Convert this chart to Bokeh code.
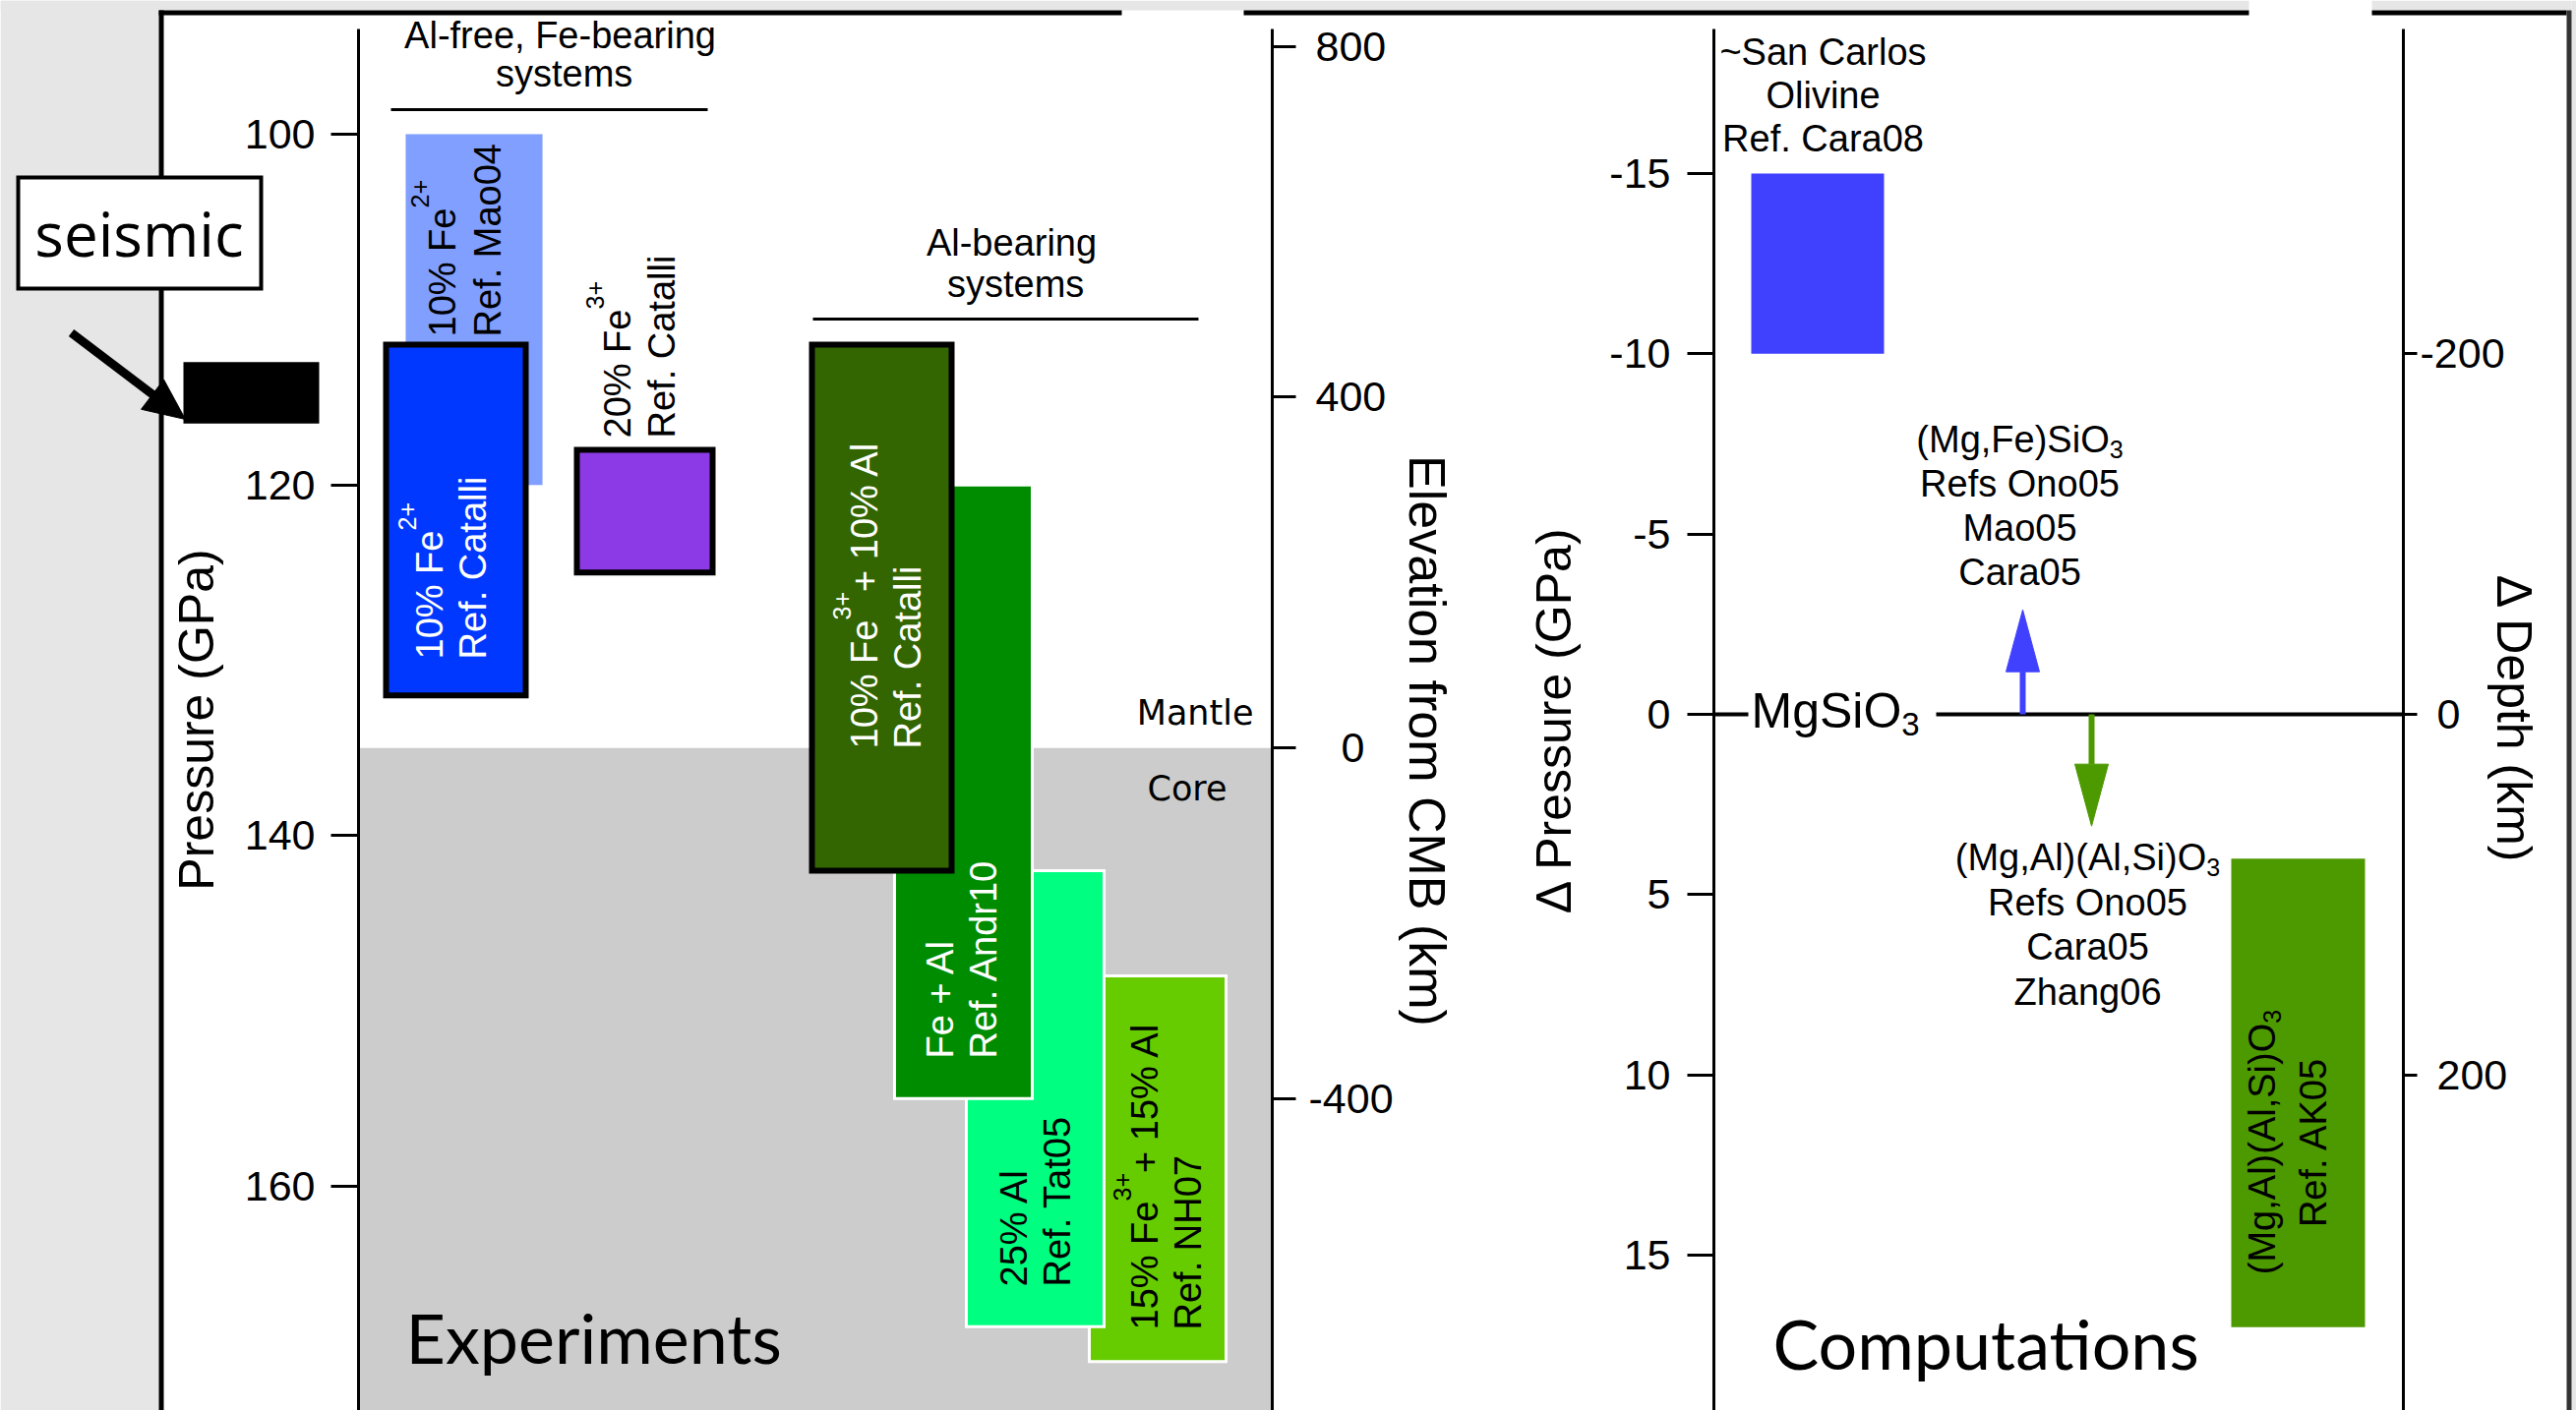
import math

from bokeh.embed import file_html
from bokeh.models import FixedTicker, Label, LinearAxis, Range1d
from bokeh.plotting import figure
from bokeh.resources import INLINE

# ------------------------------------------------------------------ data
CMB_PRESSURE = 135.0      # GPa at the core-mantle boundary
KM_PER_GPA = 20.0         # pressure -> elevation / depth conversion

# experiments: pressure interval of the post-perovskite transition (GPa)
exp_refs = ["Mao04", "Catalli Fe2+", "Catalli Fe3+", "NH07", "Tat05", "Andr10", "Catalli Fe3+Al"]
exp_p_start = [100, 112, 118, 148, 142, 120, 112]
exp_p_end = [120, 132, 125, 170, 168, 155, 142]

# seismic D'' discontinuity (GPa)
seismic_p_start = 113.0
seismic_p_end = 116.5

# computations: transition pressure relative to MgSiO3 (GPa)
comp_refs = ["Cara08", "AK05"]
comp_dp_start = [-15, 4]
comp_dp_end = [-10, 17]

shift_refs = ["(Mg,Fe)SiO3", "(Mg,Al)(Al,Si)O3"]
shift_dp = [-2.9, 3.1]

pressure_ticks = [100, 120, 140, 160]
elevation_ticks = [-400, 0, 400, 800]
dpressure_ticks = [-15, -10, -5, 0, 5, 10, 15]
depth_ticks = [-200, 0, 200]

# ---------------------------------------------------------------- layout
# one canvas; the default ranges are canvas pixels (y downwards)
W, H = 2619, 1434
AXIS_TOP = 29
P_AXIS_X, ELEV_AXIS_X = 364, 1293
DP_AXIS_X, DEPTH_AXIS_X = 1742, 2443

P_Y100, P_PX = 136.0, 17.833        # y of 100 GPa, px per GPa
DP_Y0, DP_PX = 726.0, 36.667        # y of 0 GPa shift, px per GPa


def p_at(y):
    return 100.0 + (y - P_Y100) / P_PX


def dp_at(y):
    return (y - DP_Y0) / DP_PX


def elev_at(y):
    return (CMB_PRESSURE - p_at(y)) * KM_PER_GPA


FONT = "Liberation Sans"
GRAY = "#e6e6e6"

# label standoff per tick value on the right-hand scales (labels sit centred)
elev_standoff = {-400: 13, 0: 46, 400: 20, 800: 20}
depth_standoff = {-200: 3, 0: 20, 200: 20}

exp_left = [412, 392, 586, 1107, 982, 909, 825]
exp_right = [551, 534, 724, 1246, 1122, 1049, 967]
exp_fill = ["#809fff", "#0038ff", "#8c3ae6", "#66cc00", "#00ff80", "#008c00", "#336600"]
exp_line = ["#809fff", "black", "black", "white", "white", "white", "black"]
exp_lw = [0.1, 6, 6, 3, 3, 3, 6]

N, SUP, SUB = "n", "sup", "sub"
exp_text = [
    ([("10% Fe", N), ("2+", SUP)], [("Ref. Mao04", N)]),
    ([("10% Fe", N), ("2+", SUP)], [("Ref. Catalli", N)]),
    ([("20% Fe", N), ("3+", SUP)], [("Ref. Catalli", N)]),
    ([("15% Fe", N), ("3+", SUP), (" + 15% Al", N)], [("Ref. NH07", N)]),
    ([("25% Al", N)], [("Ref. Tat05", N)]),
    ([("Fe + Al", N)], [("Ref. Andr10", N)]),
    ([("10% Fe", N), ("3+", SUP), (" + 10% Al", N)], [("Ref. Catalli", N)]),
]
exp_text_pos = [(449, 495, 342), (436, 480, 670), (627, 672, 445), (1163, 1207, 1352),
                (1030, 1074, 1308), (955, 999, 1076), (878, 922, 761)]
exp_text_color = ["black", "white", "black", "black", "black", "white", "white"]

comp_left = [1780, 2268]
comp_right = [1915, 2404]
comp_fill = ["#4040ff", "#4d9900"]

shift_x = [2056, 2126]
shift_color = ["#4040ff", "#4d9900"]
HEAD_LEN, HEAD_HALF = 63, 17

ARIAL = {' ': 278, '%': 889, '(': 333, ')': 333, '+': 584, ',': 278, '-': 333, '.': 278,
         '~': 584, 'A': 667, 'C': 722, 'F': 611, 'K': 667, 'M': 833, 'N': 722, 'O': 778,
         'R': 722, 'S': 667, 'Z': 611, 'H': 722, 'a': 556, 'c': 500, 'e': 556, 'f': 278,
         'g': 556, 'h': 556, 'i': 222, 'l': 222, 'n': 556, 'o': 556, 'r': 333, 's': 500,
         't': 278, 'v': 500}
for d in "0123456789":
    ARIAL[d] = 556

SUP_SCALE, SUP_RISE, SUB_DROP = 0.66, 0.72, 0.15
MID = 0.35      # baseline -> middle anchor, in em


def text_width(s, size):
    return sum(ARIAL.get(c, 556) for c in s) * size / 1000.0


def run_specs(runs, size):
    out, adv = [], 0.0
    for txt, kind in runs:
        fs = size if kind == N else size * SUP_SCALE
        shift = SUP_RISE * size if kind == SUP else (-SUB_DROP * size if kind == SUB else 0.0)
        out.append((txt, fs, adv, shift))
        adv += text_width(txt, fs)
    return out, adv


def label(p, x, y, text, size, font=FONT, color="black", align="left", angle=0.0):
    p.add_layout(Label(x=x, y=y, text=text, angle=angle, text_align=align,
                       text_baseline="middle", text_font=font,
                       text_font_size=f"{size:.2f}px", text_color=color))


def vtext(p, runs, center_x, y0, size, color="black", centered=False, cap=0.358):
    """Text reading upwards; y0 is its lower end (or its middle when centered)."""
    specs, total = run_specs(runs, size)
    base_x = center_x + cap * size
    start_y = y0 + total / 2 if centered else y0
    for txt, fs, adv, shift in specs:
        label(p, base_x - shift - MID * fs, start_y - adv, txt, fs, color=color,
              angle=math.pi / 2)


def htext(p, runs, x, base_y, size, color="black", align="center"):
    specs, total = run_specs(runs, size)
    x0 = x - total / 2 if align == "center" else x
    for txt, fs, adv, shift in specs:
        label(p, x0 + adv, base_y - shift - MID * fs, txt, fs, color=color)


p = figure(width=W, height=H, x_range=Range1d(0, W), y_range=Range1d(H, 0),
           x_axis_location=None, y_axis_location=None, toolbar_location=None,
           output_backend="svg", title=None, min_border=0)
p.grid.visible = False
p.outline_line_color = None
p.background_fill_color = "white"
p.border_fill_color = "white"

p.extra_y_ranges = {
    "p": Range1d(p_at(H), p_at(0)),
    "elev": Range1d(elev_at(H), elev_at(0)),
    "dp": Range1d(dp_at(H), dp_at(0)),
    "depth": Range1d(dp_at(H) * KM_PER_GPA, dp_at(0) * KM_PER_GPA),
}


def add_axis(side, range_name, loc, bounds, ticks, tick_out, standoff, title=None,
             title_standoff=0, title_size=50, line=True):
    ax = LinearAxis(y_range_name=range_name, fixed_location=loc,
                    bounds=(min(bounds), max(bounds)))
    ax.ticker = FixedTicker(ticks=ticks)
    ax.major_label_overrides = {t: str(t) for t in ticks}
    ax.axis_line_width = 3
    ax.axis_line_color = "black" if line else None
    ax.major_tick_line_width = 3
    ax.major_tick_line_color = "black"
    ax.major_tick_out = tick_out
    ax.major_tick_in = 0
    ax.minor_tick_line_color = None
    ax.major_label_text_font = FONT
    ax.major_label_text_font_size = "43px"
    ax.major_label_text_color = "black"
    ax.major_label_standoff = standoff
    ax.axis_label = title
    ax.axis_label_text_font = FONT
    ax.axis_label_text_font_size = f"{title_size}px"
    ax.axis_label_text_font_style = "normal"
    ax.axis_label_text_color = "black"
    ax.axis_label_standoff = title_standoff
    p.add_layout(ax, side)
    return ax


p_bounds = (p_at(AXIS_TOP), p_at(H))
dp_bounds = (dp_at(AXIS_TOP), dp_at(H))
elev_bounds = (elev_at(AXIS_TOP), elev_at(H))
depth_bounds = [b * KM_PER_GPA for b in dp_bounds]

add_axis("left", "p", P_AXIS_X, p_bounds, pressure_ticks, 28, 16, "Pressure (GPa)", 18)

# right-hand scales: tick groups share a standoff so each label sits centred
for i, so in enumerate(sorted(set(elev_standoff.values()))):
    ticks = [t for t in elevation_ticks if elev_standoff[t] == so]
    add_axis("right", "elev", ELEV_AXIS_X, elev_bounds, ticks, 24, so, line=(i == 0))
add_axis("right", "elev", ELEV_AXIS_X, (elev_at(72), elev_at(H)), [], 0, 0,
         "Elevation from CMB (km)", 128, title_size=52, line=False)

add_axis("left", "dp", DP_AXIS_X, dp_bounds, dpressure_ticks, 27, 17, "Δ Pressure (GPa)", 25)
for i, so in enumerate(sorted(set(depth_standoff.values()))):
    ticks = [t for t in depth_ticks if depth_standoff[t] == so]
    if i == 0:
        add_axis("right", "depth", DEPTH_AXIS_X, depth_bounds, ticks, 14, so,
                 "Δ Depth (km)", -22)
    else:
        add_axis("right", "depth", DEPTH_AXIS_X, depth_bounds, ticks, 14, so, line=False)

# ------------------------------------------------------------ page border
border_left = [0, 0, 2411, 2614, 161, 161, 1264, 2411, 2609]
border_right = [161, 2286, 2614, W, 166, 1140, 2286, 2609, 2614]
border_top = [0, 0, 0, 0, 10, 10, 10, 10, 10]
border_bottom = [H, 10, 10, H, H, 15, 15, 15, H]
border_color = [GRAY, GRAY, GRAY, GRAY, "black", "black", "black", "black", "#333333"]
p.quad(left=border_left, right=border_right, top=border_top, bottom=border_bottom,
       fill_color=border_color, line_color=None)

# ------------------------------------------------------ experiments panel
# outer core below the CMB
p.quad(left=[P_AXIS_X], right=[ELEV_AXIS_X], top=[CMB_PRESSURE], bottom=[p_at(H)],
       fill_color="#cccccc", line_color=None, y_range_name="p")

for i in range(len(exp_refs)):
    p.quad(left=[exp_left[i]], right=[exp_right[i]], top=[exp_p_start[i]], bottom=[exp_p_end[i]],
           fill_color=exp_fill[i], line_color=exp_line[i], line_width=exp_lw[i],
           line_join="miter", y_range_name="p")

for (line1, line2), (x1, x2, y0), col in zip(exp_text, exp_text_pos, exp_text_color):
    vtext(p, line1, x1, y0, 38, col)
    vtext(p, line2, x2, y0, 38, col)

# group headers
htext(p, [("Al-free, Fe-bearing", N)], 569, 49, 38)
htext(p, [("systems", N)], 569, 88, 38)
htext(p, [("Al-bearing", N)], 1028, 260, 38)
htext(p, [("systems", N)], 1028, 302, 38)
p.segment(x0=[397, 826], x1=[719, 1218], y0=[111, 324], y1=[111, 324],
          line_width=3, color="black")

label(p, 1274, 724, "Mantle", 35, font="DejaVu Sans", align="right")
label(p, 1247, 801, "Core", 35, font="DejaVu Sans", align="right")
label(p, 412, 1359, "Experiments", 70, font="Lato")

# seismic call-out
p.quad(left=[18], right=[265], top=[180], bottom=[293], fill_color="white",
       line_color="black", line_width=4, line_join="miter")
label(p, 141, 236, "seismic", 62, font="Open Sans", align="center")

ax0, ay0, ax1, ay1 = 72, 338, 188, 426
ulen = math.hypot(ax1 - ax0, ay1 - ay0)
ux, uy = (ax1 - ax0) / ulen, (ay1 - ay0) / ulen
bx, by = ax1 - 42 * ux, ay1 - 42 * uy
p.segment(x0=[ax0], y0=[ay0], x1=[bx + 4 * ux], y1=[by + 4 * uy], line_width=9, color="black")
p.patch(x=[ax1, bx - 19 * uy, bx + 19 * uy], y=[ay1, by + 19 * ux, by - 19 * ux],
        fill_color="black", line_color="black")

p.quad(left=[186], right=[324], top=[seismic_p_start], bottom=[seismic_p_end],
       fill_color="black", line_color=None, y_range_name="p")

# ----------------------------------------------------- computations panel
p.quad(left=comp_left, right=comp_right, top=comp_dp_start, bottom=comp_dp_end,
       fill_color=comp_fill, line_color=None, y_range_name="dp")

# MgSiO3 reference line, broken around its label
p.segment(x0=[DP_AXIS_X, 1968], x1=[1777, DEPTH_AXIS_X], y0=[0, 0], y1=[0, 0],
          line_width=4, color="black", y_range_name="dp")
htext(p, [("MgSiO", N), ("3", SUB)], 1780, 740, 50, align="left")

# shift arrows
shaft_end, head_xs, head_ys = [], [], []
for x, dp in zip(shift_x, shift_dp):
    sign = 1 if dp > 0 else -1
    base = dp - sign * HEAD_LEN / DP_PX
    shaft_end.append(base)
    head_xs.append([x - HEAD_HALF, x + HEAD_HALF, x])
    head_ys.append([base, base, dp])
p.segment(x0=shift_x, x1=shift_x, y0=[0, 0], y1=shaft_end, line_width=6, color=shift_color,
          y_range_name="dp")
p.patches(xs=head_xs, ys=head_ys, fill_color=shift_color, line_color=shift_color,
          line_width=1, y_range_name="dp")

for i, t in enumerate(["~San Carlos", "Olivine", "Ref. Cara08"]):
    htext(p, [(t, N)], 1853, 66 + 44 * i, 38)
for i, runs in enumerate([[("(Mg,Fe)SiO", N), ("3", SUB)], [("Refs Ono05", N)],
                          [("Mao05", N)], [("Cara05", N)]]):
    htext(p, runs, 2053, 460 + 45 * i, 38)
for i, runs in enumerate([[("(Mg,Al)(Al,Si)O", N), ("3", SUB)], [("Refs Ono05", N)],
                          [("Cara05", N)], [("Zhang06", N)]]):
    htext(p, runs, 2122, 885 + 45.5 * i, 38)

vtext(p, [("(Mg,Al)(Al,Si)O", N), ("3", SUB)], 2303, 1161, 38, centered=True, cap=0.26)
vtext(p, [("Ref. AK05", N)], 2351, 1161, 38, centered=True)

label(p, 1802, 1365, "Computations", 70, font="Lato")

open("out.html", "w").write(file_html(p, INLINE))
